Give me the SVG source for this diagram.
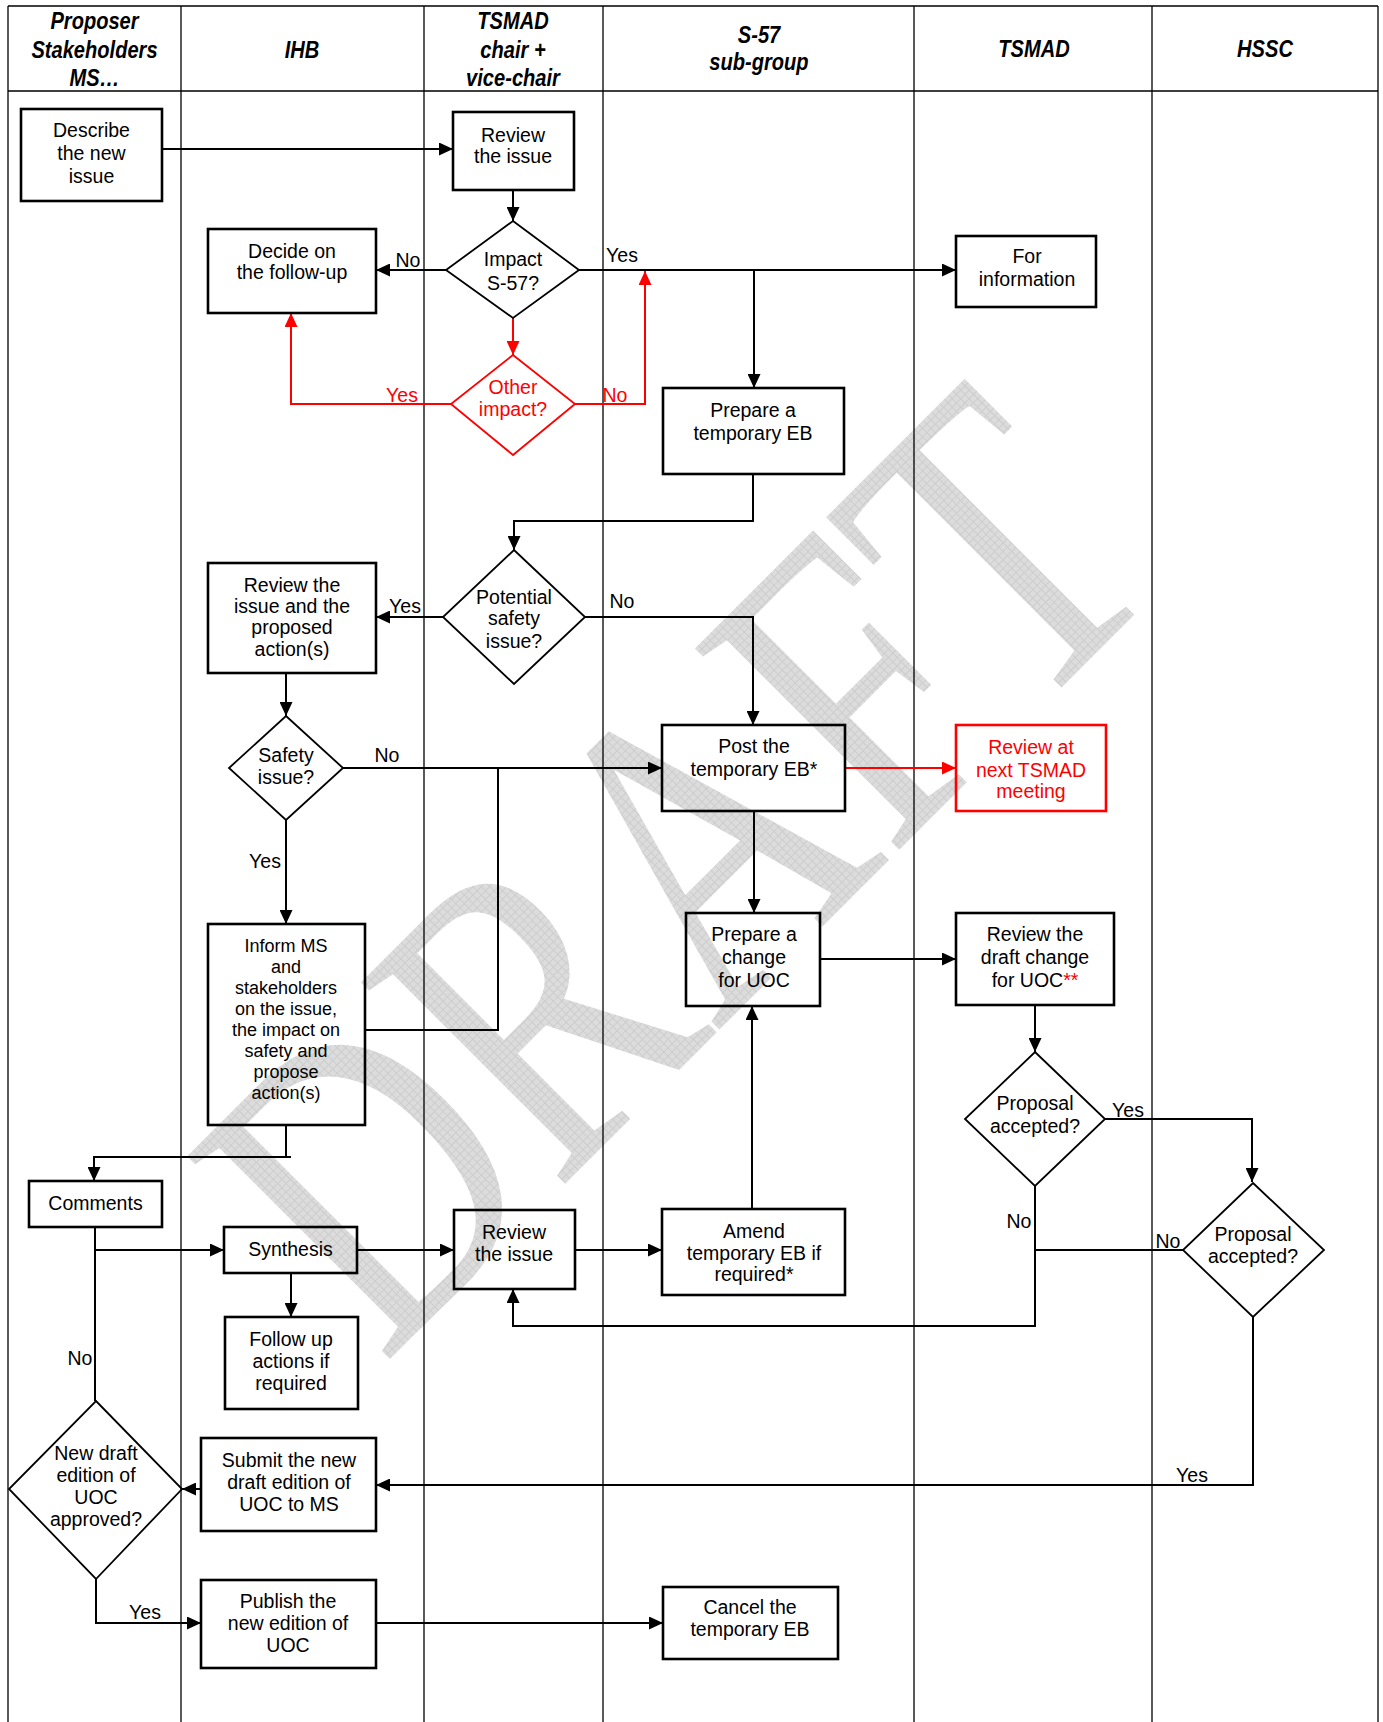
<svg xmlns="http://www.w3.org/2000/svg" width="1383" height="1722" viewBox="0 0 1383 1722">
<style>
.t{font-family:"Liberation Sans",Arial,sans-serif;font-size:19.5px;text-anchor:middle;fill:#000}
.ts{font-size:18px}
.red{fill:#ff0000}
.h{font-family:"Liberation Sans",Arial,sans-serif;font-size:24.5px;font-weight:bold;font-style:italic;text-anchor:middle;fill:#000}
.lane{stroke:#000;stroke-width:1.3;fill:none}
.box{fill:none;stroke:#000;stroke-width:2.6}
.boxr{fill:none;stroke:#ff0000;stroke-width:2.6}
.dia{fill:none;stroke:#000;stroke-width:1.8}
.diar{fill:none;stroke:#ff0000;stroke-width:1.8}
.c{fill:none;stroke:#000;stroke-width:2}
.cr{fill:none;stroke:#ff0000;stroke-width:2}
.wm{font-family:"Liberation Serif","Times New Roman",serif;font-size:438px;fill:url(#hatch)}
</style>
<defs>
<pattern id="hatch" patternUnits="userSpaceOnUse" width="6" height="6">
<rect width="6" height="6" fill="#dcdcdc"/>
<path d="M0,0.5 H6 M0.5,0 V6" stroke="#cdcdcd" stroke-width="1"/>
</pattern>
<marker id="ah" markerUnits="userSpaceOnUse" markerWidth="14" markerHeight="13" refX="14" refY="6.5" orient="auto"><path d="M0,0 L14,6.5 L0,13 z" fill="#000"/></marker>
<marker id="ahr" markerUnits="userSpaceOnUse" markerWidth="14" markerHeight="13" refX="14" refY="6.5" orient="auto"><path d="M0,0 L14,6.5 L0,13 z" fill="#ff0000"/></marker>
</defs>
<rect x="0" y="0" width="1383" height="1722" fill="#fff"/>
<g id="watermark">
<text class="wm" transform="translate(383,1366) rotate(-45)" textLength="1115" lengthAdjust="spacingAndGlyphs">DRAFT</text>
</g>
<g id="lanes">
<path class="lane" d="M8,6 H1378 M8,91 H1378 M8,6 V1722 M181,6 V1722 M424,6 V1722 M603,6 V1722 M914,6 V1722 M1152,6 V1722 M1378,6 V1722"/>
<text class="h" transform="translate(94.5,29) scale(0.82,1)">Proposer</text>
<text class="h" transform="translate(94.5,58) scale(0.82,1)">Stakeholders</text>
<text class="h" transform="translate(94.5,86) scale(0.82,1)">MS…</text>
<text class="h" transform="translate(302,58) scale(0.82,1)">IHB</text>
<text class="h" transform="translate(513,29) scale(0.82,1)">TSMAD</text>
<text class="h" transform="translate(513,58) scale(0.82,1)">chair +</text>
<text class="h" transform="translate(513,86) scale(0.82,1)">vice-chair</text>
<text class="h" transform="translate(759,43) scale(0.82,1)">S-57</text>
<text class="h" transform="translate(759,70) scale(0.82,1)">sub-group</text>
<text class="h" transform="translate(1034,57) scale(0.82,1)">TSMAD</text>
<text class="h" transform="translate(1265,57) scale(0.82,1)">HSSC</text>
</g>
<g id="connectors">
<path class="c" d="M162,149 H453" marker-end="url(#ah)"/>
<path class="c" d="M513,190 V221" marker-end="url(#ah)"/>
<path class="c" d="M446,270 H376" marker-end="url(#ah)"/>
<path class="c" d="M579,270 H956" marker-end="url(#ah)"/>
<path class="c" d="M754,270 V388" marker-end="url(#ah)"/>
<path class="cr" d="M513,318 V355" marker-end="url(#ahr)"/>
<path class="cr" d="M451,404 H291 V313" marker-end="url(#ahr)"/>
<path class="cr" d="M575,404 H645 V271" marker-end="url(#ahr)"/>
<path class="c" d="M753,474 V521 H514 V550" marker-end="url(#ah)"/>
<path class="c" d="M443,617 H376" marker-end="url(#ah)"/>
<path class="c" d="M585,617 H753 V725" marker-end="url(#ah)"/>
<path class="c" d="M286,673 V716" marker-end="url(#ah)"/>
<path class="c" d="M343,768 H662" marker-end="url(#ah)"/>
<path class="c" d="M365,1030 H498 V768"/>
<path class="c" d="M286,820 V924" marker-end="url(#ah)"/>
<path class="cr" d="M845,768 H956" marker-end="url(#ahr)"/>
<path class="c" d="M754,811 V913" marker-end="url(#ah)"/>
<path class="c" d="M820,959 H956" marker-end="url(#ah)"/>
<path class="c" d="M1035,1005 V1052" marker-end="url(#ah)"/>
<path class="c" d="M1105,1119 H1252 V1182" marker-end="url(#ah)"/>
<path class="c" d="M1035,1186 V1326 H513 V1289" marker-end="url(#ah)"/>
<path class="c" d="M1183,1250 H1035"/>
<path class="c" d="M1253,1317 V1485 H376" marker-end="url(#ah)"/>
<path class="c" d="M286,1125 V1157 M291,1157 H94 V1181" marker-end="url(#ah)"/>
<path class="c" d="M95,1227 V1401"/>
<path class="c" d="M94,1250 H224" marker-end="url(#ah)"/>
<path class="c" d="M357,1250 H454" marker-end="url(#ah)"/>
<path class="c" d="M575,1250 H662" marker-end="url(#ah)"/>
<path class="c" d="M752,1209 V1006" marker-end="url(#ah)"/>
<path class="c" d="M291,1273 V1317" marker-end="url(#ah)"/>
<path class="c" d="M201,1489 H182" marker-end="url(#ah)"/>
<path class="c" d="M96,1579 V1623 H201" marker-end="url(#ah)"/>
<path class="c" d="M376,1623 H663" marker-end="url(#ah)"/>
<text class="t" x="408" y="267">No</text>
<text class="t" x="622" y="262">Yes</text>
<text class="t red" x="402" y="402">Yes</text>
<text class="t red" x="615" y="402">No</text>
<text class="t" x="405" y="613">Yes</text>
<text class="t" x="622" y="608">No</text>
<text class="t" x="387" y="762">No</text>
<text class="t" x="265" y="868">Yes</text>
<text class="t" x="1128" y="1117">Yes</text>
<text class="t" x="1019" y="1228">No</text>
<text class="t" x="1168" y="1248">No</text>
<text class="t" x="1192" y="1482">Yes</text>
<text class="t" x="80" y="1365">No</text>
<text class="t" x="145" y="1619">Yes</text>
</g>
<g id="n-describe">
<rect class="box" x="21" y="109" width="141" height="92"/>
<text class="t"><tspan x="91.5" y="137">Describe</tspan><tspan x="91.5" y="160">the new</tspan><tspan x="91.5" y="183">issue</tspan></text>
</g>
<g id="n-review1">
<rect class="box" x="453" y="112" width="121" height="78"/>
<text class="t"><tspan x="513" y="142">Review</tspan><tspan x="513" y="163">the issue</tspan></text>
</g>
<g id="n-impact">
<polygon class="dia" points="513,221 579,270 513,318 446,270"/>
<text class="t"><tspan x="513" y="266">Impact</tspan><tspan x="513" y="290">S-57?</tspan></text>
</g>
<g id="n-decide">
<rect class="box" x="208" y="229" width="168" height="84"/>
<text class="t"><tspan x="292" y="258">Decide on</tspan><tspan x="292" y="279">the follow-up</tspan></text>
</g>
<g id="n-forinfo">
<rect class="box" x="956" y="236" width="140" height="71"/>
<text class="t"><tspan x="1027" y="263">For</tspan><tspan x="1027" y="286">information</tspan></text>
</g>
<g id="n-other">
<polygon class="diar" points="513,355 575,404 513,455 451,404"/>
<text class="t red"><tspan x="513" y="394">Other</tspan><tspan x="513" y="416">impact?</tspan></text>
</g>
<g id="n-preptemp">
<rect class="box" x="663" y="388" width="181" height="86"/>
<text class="t"><tspan x="753" y="417">Prepare a</tspan><tspan x="753" y="440">temporary EB</tspan></text>
</g>
<g id="n-potential">
<polygon class="dia" points="514,550 585,617 514,684 443,617"/>
<text class="t"><tspan x="514" y="604">Potential</tspan><tspan x="514" y="625">safety</tspan><tspan x="514" y="648">issue?</tspan></text>
</g>
<g id="n-reviewprop">
<rect class="box" x="208" y="563" width="168" height="110"/>
<text class="t"><tspan x="292" y="592">Review the</tspan><tspan x="292" y="613">issue and the</tspan><tspan x="292" y="634">proposed</tspan><tspan x="292" y="656">action(s)</tspan></text>
</g>
<g id="n-safety">
<polygon class="dia" points="286,716 343,768 286,820 229,768"/>
<text class="t"><tspan x="286" y="762">Safety</tspan><tspan x="286" y="784">issue?</tspan></text>
</g>
<g id="n-post">
<rect class="box" x="662" y="725" width="183" height="86"/>
<text class="t"><tspan x="754" y="753">Post the</tspan><tspan x="754" y="776">temporary EB*</tspan></text>
</g>
<g id="n-reviewnext">
<rect class="boxr" x="956" y="725" width="150" height="86"/>
<text class="t red"><tspan x="1031" y="754">Review at</tspan><tspan x="1031" y="777">next TSMAD</tspan><tspan x="1031" y="798">meeting</tspan></text>
</g>
<g id="n-inform">
<rect class="box" x="208" y="924" width="157" height="201"/>
<text class="t ts"><tspan x="286" y="951.5">Inform MS</tspan><tspan x="286" y="972.6">and</tspan><tspan x="286" y="993.7">stakeholders</tspan><tspan x="286" y="1014.8">on the issue,</tspan><tspan x="286" y="1035.9">the impact on</tspan><tspan x="286" y="1057">safety and</tspan><tspan x="286" y="1078.1">propose</tspan><tspan x="286" y="1099.2">action(s)</tspan></text>
</g>
<g id="n-prepchange">
<rect class="box" x="686" y="913" width="134" height="93"/>
<text class="t"><tspan x="754" y="941">Prepare a</tspan><tspan x="754" y="964">change</tspan><tspan x="754" y="987">for UOC</tspan></text>
</g>
<g id="n-reviewdraft">
<rect class="box" x="956" y="913" width="158" height="92"/>
<text class="t"><tspan x="1035" y="941">Review the</tspan><tspan x="1035" y="964">draft change</tspan><tspan x="1035" y="987">for UOC<tspan class="red">**</tspan></tspan></text>
</g>
<g id="n-proposal1">
<polygon class="dia" points="1035,1052 1105,1119 1035,1186 965,1119"/>
<text class="t"><tspan x="1035" y="1110">Proposal</tspan><tspan x="1035" y="1133">accepted?</tspan></text>
</g>
<g id="n-comments">
<rect class="box" x="29" y="1181" width="133" height="46"/>
<text class="t" x="95.5" y="1210">Comments</text>
</g>
<g id="n-synthesis">
<rect class="box" x="224" y="1227" width="133" height="46"/>
<text class="t" x="290.5" y="1256">Synthesis</text>
</g>
<g id="n-review2">
<rect class="box" x="454" y="1210" width="121" height="79"/>
<text class="t"><tspan x="514" y="1239">Review</tspan><tspan x="514" y="1261">the issue</tspan></text>
</g>
<g id="n-amend">
<rect class="box" x="662" y="1209" width="183" height="86"/>
<text class="t"><tspan x="754" y="1238">Amend</tspan><tspan x="754" y="1260">temporary EB if</tspan><tspan x="754" y="1281">required*</tspan></text>
</g>
<g id="n-proposal2">
<polygon class="dia" points="1253,1183 1324,1250 1253,1317 1183,1250"/>
<text class="t"><tspan x="1253" y="1241">Proposal</tspan><tspan x="1253" y="1263">accepted?</tspan></text>
</g>
<g id="n-followup">
<rect class="box" x="225" y="1317" width="133" height="92"/>
<text class="t"><tspan x="291" y="1346">Follow up</tspan><tspan x="291" y="1368">actions if</tspan><tspan x="291" y="1390">required</tspan></text>
</g>
<g id="n-newdraft">
<polygon class="dia" points="96,1401 182,1489 96,1579 9,1489"/>
<text class="t"><tspan x="96" y="1460">New draft</tspan><tspan x="96" y="1482">edition of</tspan><tspan x="96" y="1504">UOC</tspan><tspan x="96" y="1526">approved?</tspan></text>
</g>
<g id="n-submit">
<rect class="box" x="201" y="1438" width="175" height="93"/>
<text class="t"><tspan x="289" y="1467">Submit the new</tspan><tspan x="289" y="1489">draft edition of</tspan><tspan x="289" y="1511">UOC to MS</tspan></text>
</g>
<g id="n-publish">
<rect class="box" x="201" y="1580" width="175" height="88"/>
<text class="t"><tspan x="288" y="1608">Publish the</tspan><tspan x="288" y="1630">new edition of</tspan><tspan x="288" y="1652">UOC</tspan></text>
</g>
<g id="n-cancel">
<rect class="box" x="663" y="1587" width="175" height="72"/>
<text class="t"><tspan x="750" y="1614">Cancel the</tspan><tspan x="750" y="1636">temporary EB</tspan></text>
</g>
</svg>
